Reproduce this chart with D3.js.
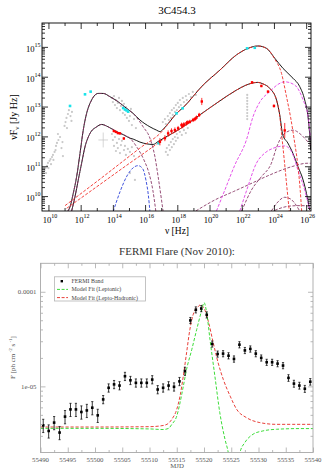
<!DOCTYPE html>
<html>
<head>
<meta charset="utf-8">
<script src="https://cdn.jsdelivr.net/npm/d3@7"></script>
<style>
  body { margin: 0; background: #fff; }
  svg { display: block; font-family: "Liberation Serif", "Times New Roman", serif; }
</style>
</head>
<body>
<svg id="chart" width="322" height="469"></svg>
<script>
// ---------- SED panel: [log10 nu (Hz), log10 nuFnu (Jy Hz)] ----------
const totalUpper = [[11.21,9.50],[11.34,9.64],[11.54,10.09],[11.75,10.65],[11.96,11.43],[12.16,12.21],[12.37,12.77],[12.68,13.22],[13.09,13.44],[13.40,13.44],[13.82,13.33],[14.33,13.16],[14.85,12.94],[15.26,12.77],[15.68,12.55],[16.30,12.32],[16.71,12.21],[16.92,12.16],[17.12,12.24],[17.54,12.50],[17.95,12.77],[18.33,12.95],[19.60,13.72],[20.64,14.22],[21.67,14.73],[22.39,14.95],[23.01,15.03],[23.54,14.95],[24.05,14.62],[24.56,14.28],[25.18,13.95],[25.60,13.67],[25.91,13.22],[26.10,12.72],[26.22,12.05],[26.28,11.54]];
const totalLower = [[11.44,9.50],[11.65,9.98],[11.85,10.54],[12.06,11.10],[12.27,11.65],[12.58,12.10],[12.99,12.32],[13.30,12.40],[13.71,12.32],[14.23,12.16],[14.64,12.06],[15.06,11.94],[15.26,11.91],[15.68,11.81],[16.09,11.75],[16.50,11.73],[16.81,11.83],[17.12,11.93],[18.16,12.25],[19.40,12.72],[20.64,13.19],[21.67,13.55],[22.19,13.70],[22.60,13.78],[23.00,13.81],[23.32,13.76],[23.74,13.61],[24.16,13.22],[24.36,12.72],[24.55,12.05],[24.86,11.78],[25.18,11.43],[25.49,10.99],[25.81,10.54],[26.02,10.09],[26.22,9.53]];
const syncUpper = [[11.21,9.50],[11.34,9.64],[11.54,10.09],[11.75,10.65],[11.96,11.43],[12.16,12.21],[12.37,12.77],[12.68,13.22],[13.09,13.44],[13.40,13.44],[13.82,13.33],[14.33,13.16],[14.85,12.94],[15.26,12.77],[15.88,12.32],[16.30,11.94],[16.61,11.32],[16.81,10.65],[17.02,9.87],[17.12,9.48]];
const syncLower = [[11.44,9.50],[11.65,9.98],[11.85,10.54],[12.06,11.10],[12.27,11.65],[12.58,12.10],[12.99,12.32],[13.30,12.40],[13.71,12.32],[14.23,12.16],[14.64,12.06],[15.06,11.94],[15.49,11.64],[15.93,11.21],[16.24,10.77],[16.48,10.20],[16.67,9.48]];
const diskComp = [[14.02,9.48],[14.44,10.14],[14.87,10.67],[15.24,10.94],[15.57,11.02],[15.86,10.91],[16.05,10.54],[16.20,10.04],[16.30,9.48]];
const icUpper = [[11.03,9.68],[13.20,10.57],[15.68,11.61],[17.12,12.21],[17.54,12.50],[17.95,12.77],[18.33,12.95],[19.60,13.72],[20.64,14.22],[21.67,14.73],[22.39,14.95],[23.01,15.03],[23.54,14.95],[24.05,14.59],[24.47,14.11],[24.78,13.33],[25.04,12.62],[25.26,11.88],[25.48,11.04],[25.63,10.20],[25.72,9.50]];
const icLower = [[11.13,9.59],[13.20,10.39],[15.06,11.11],[16.30,11.58],[17.12,11.90],[18.16,12.25],[19.40,12.72],[20.64,13.19],[21.67,13.55],[22.19,13.70],[22.60,13.78],[23.00,13.81],[23.32,13.76],[23.74,13.61],[24.16,13.22],[24.36,12.68],[24.48,12.05],[24.64,11.21],[24.79,10.37],[24.95,9.50]];
const hadronUpper = [[20.43,9.50],[20.95,10.20],[21.57,11.04],[22.29,11.88],[22.70,12.66],[23.12,13.15],[23.74,13.50],[24.24,13.74],[24.67,13.83],[25.29,13.72],[25.81,13.22],[26.12,12.66],[26.28,11.88]];
const hadronLower = [[21.88,9.50],[22.31,10.20],[22.91,11.10],[23.43,11.44],[23.94,11.60],[24.67,11.68],[25.10,11.48],[25.49,10.87],[25.91,10.20],[26.18,9.64],[26.25,9.50]];
const cascadeA = [[22.00,9.50],[22.60,10.20],[23.22,10.65],[23.84,11.10],[24.17,11.64],[24.56,12.05],[25.18,12.21],[25.70,12.05],[26.18,11.77],[26.28,11.71]];
const cascadeBroad = [[19.15,9.50],[20.33,9.87],[21.48,10.15],[22.50,10.40],[23.58,10.67],[25.13,10.99],[26.06,11.10],[26.28,11.10]];
const cascadeSmall = [[23.84,9.50],[24.24,9.80],[24.67,9.96],[25.04,9.90],[25.29,9.76],[25.60,9.50]];
const cascadeFlat = [[24.05,9.52],[24.55,9.62],[25.08,9.67],[25.60,9.68],[26.12,9.67],[26.28,9.65]];

// observed points: [log nu, log nuFnu, error (dex)]
const redPoints = [[14.06,12.18,0.03],[14.19,12.15,0.03],[14.31,12.11,0.03],[14.44,12.10,0.03],[14.68,11.93,0.04],
  [16.92,11.82,0.12],[17.23,11.94,0.10],[17.43,12.10,0.10],[17.64,12.18,0.09],[17.85,12.21,0.09],[18.05,12.27,0.08],
  [18.26,12.38,0.08],[18.34,12.35,0.08],[18.41,12.40,0.08],[18.57,12.44,0.08],[18.65,12.47,0.07],[18.78,12.49,0.07],
  [18.98,12.55,0.07],[19.09,12.58,0.07],[19.19,12.63,0.07],[19.36,12.72,0.07],[19.52,13.17,0.12],
  [22.64,13.81,0.04],[23.22,13.69,0.04],[23.63,13.50,0.04],[24.00,13.02,0.05],[24.67,12.20,0.25]];
const cyanPoints = [[11.34,13.02],[12.27,13.41],[12.62,13.50],[14.64,12.95],[14.75,12.90],[14.85,12.87],[14.95,12.83],[16.84,11.77],[17.95,12.77],[18.33,12.94],[22.33,14.95],[22.81,14.97]];
const grayPoints = [
  [9.63,10.67],[9.69,10.81],[9.76,10.87],[9.82,10.94],[9.85,10.77],[9.91,11.01],[9.97,11.11],[10.00,10.94],[10.07,11.18],[10.13,11.24],[10.16,11.07],[10.22,11.31],[10.28,11.38],[10.31,11.21],[10.38,11.48],[10.44,11.54],[10.47,11.68],[10.53,11.78],[10.59,12.08],[10.62,11.88],[10.72,11.98],[10.81,11.61],[10.87,11.81],[10.90,11.34],[11.00,12.35],[11.06,12.48],[11.12,12.62],[11.15,12.28],[11.21,12.75],[11.27,12.88],[11.37,12.68],[11.43,12.52],[11.46,12.82],
  [13.94,13.29],[14.00,13.15],[14.07,13.35],[14.13,13.05],[14.19,13.22],[14.25,12.95],[14.31,13.12],[14.38,13.29],[14.44,12.88],[14.50,13.02],[14.56,13.19],[14.62,12.78],[14.69,13.09],[14.75,12.72],[14.81,12.98],[14.87,12.62],[14.93,12.82],[15.00,12.52],[15.06,12.68],[15.12,12.92],[15.18,12.38],[15.31,12.58],[15.43,12.28],
  [13.94,12.08],[14.00,11.88],[14.07,11.68],[14.13,11.98],[14.19,11.51],[14.25,11.78],[14.31,11.61],[14.38,11.91],[14.44,11.44],[14.50,11.71],[14.56,11.85],[14.69,11.54],[14.75,11.68],[14.81,11.38],[14.93,11.58],[15.06,11.48],[15.18,11.64],[15.31,11.34],[15.06,10.77],[15.37,10.54],
  [17.10,12.48],[17.23,12.58],[17.29,12.41],[17.41,12.68],[17.48,12.55],[17.54,12.78],[17.60,12.62],[17.66,12.88],[17.72,12.72],[17.79,12.95],[17.85,12.82],[17.91,13.05],[17.97,12.88],[18.03,13.12],[18.10,12.98],[18.16,13.22],[18.22,13.05],[18.34,13.29],[18.41,13.15],[18.53,13.35],[18.59,13.22],[18.72,13.42],[18.84,13.32],[18.96,13.49],[19.15,13.39],
  [17.29,11.48],[17.35,11.61],[17.41,11.38],[17.48,11.71],[17.54,11.54],[17.60,11.81],[17.66,11.64],[17.72,11.91],[17.79,11.74],[17.85,11.98],[17.91,11.85],[17.97,12.08],[18.03,11.95],[18.16,12.15],[18.28,12.05],[18.41,12.21],[18.53,12.11],[18.65,12.28],
  [22.34,13.39],[22.34,13.29],[22.34,13.19],[22.34,13.09],[22.34,12.99],[22.34,12.89],[22.34,12.78],[22.34,12.68],[22.34,12.58]];
const grayCross = [13.40, 11.88, 0.25, 0.30];
const sedXTicks = [10, 12, 14, 16, 18, 20, 22, 24, 26];
const sedYTicks = [10, 11, 12, 13, 14, 15];

// ---------- FERMI light curve ----------
const fermiMjd = [55490.5,55491.5,55492.5,55493.5,55494.5,55495.5,55496.5,55497.5,55498.5,55499.5,55500.5,55501.5,55502.5,55503.5,55504.5,55505.5,55506.5,55507.5,55508.5,55509.5,55510.5,55511.5,55512.5,55513.5,55514.5,55515.5,55516.5,55517.5,55518.5,55519.5,55520.5,55521.5,55522.5,55523.5,55524.5,55525.5,55526.5,55527.5,55528.5,55529.5,55530.5,55531.5,55532.5,55533.5,55534.5,55535.5,55536.5,55537.5,55538.5,55539.5];
// flux and error in units of 1e-6 ph cm^-2 s^-1
const fermiFlux = [3.87,3.38,4.14,3.25,4.79,5.71,5.71,5.36,5.57,5.95,4.94,7.28,9.66,10.5,10.2,12.8,11.6,10.9,10.9,10.9,11.8,9.27,9.66,10.2,9.90,11.3,14.5,49.8,64.5,66.5,57.1,28.1,22.0,22.2,21.1,19.5,27.6,24.0,24.9,22.2,20.0,18.0,18.0,17.4,16.6,12.3,10.7,10.2,9.44,11.2];
const fermiErr = [0.62,0.54,0.66,0.52,0.77,0.91,0.91,0.86,0.89,0.95,0.79,0.73,0.97,1.05,1.02,1.28,1.16,1.09,1.09,1.09,1.18,0.93,0.97,1.02,0.99,1.13,1.45,3.7,4.8,5.0,4.3,2.1,1.65,1.67,1.6,1.5,2.1,1.8,1.9,1.67,1.5,1.35,1.35,1.3,1.25,1.0,0.9,0.85,0.8,0.9];
const leptonicMjd = [55490,55500,55510,55512.5,55513.5,55514.1,55515.0,55515.6,55516.2,55516.8,55517.75,55518.65,55519.6,55520.0,55520.5,55521.1,55522.0,55522.9,55523.85,55524.45,55525.0,55525.6,55526.1,55526.6,55527.5,55529.0,55530.8,55533.3,55537.6,55540];
const leptonicFlux = [3.6,3.6,3.55,3.5,3.6,3.97,4.85,6.7,10.0,15.1,24.4,39.7,64.5,76.9,59.6,31.2,12.8,5.27,2.76,2.0,1.2,0.8,1.2,2.0,2.55,3.12,3.38,3.52,3.58,3.58];
const hadronicMjd = [55490,55500,55510,55512,55513.2,55514.1,55515.0,55515.6,55516.2,55516.8,55517.4,55518.0,55518.95,55519.3,55520.0,55520.8,55521.7,55522.6,55523.55,55524.8,55526.0,55527.8,55530.25,55533.3,55536.2,55540];
const hadronicFlux = [3.72,3.72,3.75,3.82,3.97,4.49,5.71,7.89,12.8,22.6,39.7,57.1,69.8,72.8,67.1,48.5,28.8,17.7,11.8,7.89,5.71,4.67,4.14,3.97,3.97,3.97];
const lcXTicks = [55490, 55495, 55500, 55505, 55510, 55515, 55520, 55525, 55530, 55535, 55540];

const svg = d3.select('#chart');
const p = v => Math.pow(10, v);

// ================= top panel =================
const f1 = { l: 42, r: 311, t: 23, b: 211 };
const x1 = d3.scaleLog().domain([p(9.6), p(26.3)]).range([f1.l, f1.r]);
const y1 = d3.scaleLog().domain([p(9.5), p(15.8)]).range([f1.b, f1.t]);

svg.append('clipPath').attr('id', 'clip1')
  .append('rect').attr('x', f1.l).attr('y', f1.t).attr('width', f1.r - f1.l).attr('height', f1.b - f1.t);

const sedG = svg.append('g');
const plot1 = sedG.append('g').attr('clip-path', 'url(#clip1)');

plot1.selectAll('.gray').data(grayPoints).enter().append('circle')
  .attr('cx', d => x1(p(d[0]))).attr('cy', d => y1(p(d[1]))).attr('r', 1.1)
  .attr('fill', '#c9c9c9');

const gc = plot1.append('g').attr('stroke', '#c4c4c4').attr('stroke-width', 0.7);
gc.append('line').attr('x1', x1(p(grayCross[0]))).attr('x2', x1(p(grayCross[0])))
  .attr('y1', y1(p(grayCross[1] - grayCross[2]))).attr('y2', y1(p(grayCross[1] + grayCross[2])));
gc.append('line').attr('y1', y1(p(grayCross[1]))).attr('y2', y1(p(grayCross[1])))
  .attr('x1', x1(p(grayCross[0] - grayCross[3]))).attr('x2', x1(p(grayCross[0] + grayCross[3])));

const sedLine = d3.line().x(d => x1(p(d[0]))).y(d => y1(p(d[1]))).curve(d3.curveMonotoneX);

const curves = [
  { d: totalUpper, c: '#000', dash: null },
  { d: totalLower, c: '#000', dash: null },
  { d: syncUpper, c: '#8a3a68', dash: '3,1.6' },
  { d: syncLower, c: '#8a3a68', dash: '3,1.6' },
  { d: diskComp, c: '#2a3fd8', dash: '3,1.6' },
  { d: cascadeBroad, c: '#8a3a68', dash: '3,1.6' },
  { d: cascadeA, c: '#8a3a68', dash: '3,1.6' },
  { d: cascadeSmall, c: '#8a3a68', dash: '3,1.6' },
  { d: cascadeFlat, c: '#8a3a68', dash: '3,1.6' },
  { d: hadronUpper, c: '#e23ee6', dash: '3,1.6' },
  { d: hadronLower, c: '#e23ee6', dash: '3,1.6' },
  { d: icUpper, c: '#f0302a', dash: '3,1.6' },
  { d: icLower, c: '#f0302a', dash: '3,1.6' }
];
curves.forEach(k => {
  plot1.append('path').attr('d', sedLine(k.d))
    .attr('fill', 'none').attr('stroke', k.c).attr('stroke-width', 0.9)
    .attr('stroke-dasharray', k.dash);
});

plot1.selectAll('.cyan').data(cyanPoints).enter().append('rect')
  .attr('x', d => x1(p(d[0])) - 1.3).attr('y', d => y1(p(d[1])) - 1.3)
  .attr('width', 2.6).attr('height', 2.6).attr('fill', '#19e3ea');

const reds = plot1.selectAll('.red').data(redPoints).enter().append('g');
reds.append('line')
  .attr('x1', d => x1(p(d[0]))).attr('x2', d => x1(p(d[0])))
  .attr('y1', d => y1(p(d[1] - d[2]))).attr('y2', d => y1(p(d[1] + d[2])))
  .attr('stroke', '#f00').attr('stroke-width', 0.8);
reds.append('rect')
  .attr('x', d => x1(p(d[0])) - 1.2).attr('y', d => y1(p(d[1])) - 1.2)
  .attr('width', 2.4).attr('height', 2.4).attr('fill', '#f00');

// axes with inward ticks
const minorX = sedXTicks.slice(0, -1).map(e => p(e + 1));
const minorY = [];
for (let e = 9; e <= 15; e++) for (let k = 2; k <= 9; k++) {
  const v = k * p(e);
  if (v > p(9.5) && v < p(15.8)) minorY.push(v);
}
const ax = (gen, vals, size, tr) => sedG.append('g').attr('transform', tr)
  .call(gen.tickValues(vals).tickSize(size).tickSizeOuter(0).tickFormat(''))
  .call(g => g.select('.domain').remove())
  .call(g => g.selectAll('line').attr('stroke', '#000').attr('stroke-width', 0.8));
const majX = sedXTicks.map(p), majY = sedYTicks.map(p);
ax(d3.axisBottom(x1), majX, -6, `translate(0,${f1.b})`);
ax(d3.axisBottom(x1), minorX, -3, `translate(0,${f1.b})`);
ax(d3.axisTop(x1), majX, -6, `translate(0,${f1.t})`);
ax(d3.axisTop(x1), minorX, -3, `translate(0,${f1.t})`);
ax(d3.axisLeft(y1), majY, -6, `translate(${f1.l},0)`);
ax(d3.axisLeft(y1), minorY, -3, `translate(${f1.l},0)`);
ax(d3.axisRight(y1), majY, -6, `translate(${f1.r},0)`);
ax(d3.axisRight(y1), minorY, -3, `translate(${f1.r},0)`);
sedG.append('rect').attr('x', f1.l).attr('y', f1.t).attr('width', f1.r - f1.l).attr('height', f1.b - f1.t)
  .attr('fill', 'none').attr('stroke', '#000').attr('stroke-width', 0.9);

sedXTicks.forEach(e => {
  const t = sedG.append('text').attr('x', x1(p(e)) + 1.5).attr('y', 223)
    .attr('text-anchor', 'middle').attr('font-size', 8.6).attr('fill', '#000');
  t.append('tspan').text('10');
  t.append('tspan').attr('font-size', 6).attr('dy', -5).text(e);
});
sedYTicks.forEach(e => {
  const t = sedG.append('text').attr('x', 40.5).attr('y', y1(p(e)) + 5)
    .attr('text-anchor', 'end').attr('font-size', 8.6).attr('fill', '#000');
  t.append('tspan').text('10');
  t.append('tspan').attr('font-size', 6).attr('dy', -5).text(e);
});

sedG.append('text').attr('x', 177).attr('y', 13.8).attr('text-anchor', 'middle')
  .attr('font-size', 11).text('3C454.3');
sedG.append('text').attr('x', 177).attr('y', 234).attr('text-anchor', 'middle')
  .attr('font-size', 9.5).text('\u03bd [Hz]');
const yl = sedG.append('text').attr('transform', 'translate(16.5,117) rotate(-90)')
  .attr('text-anchor', 'middle').attr('font-size', 10);
yl.append('tspan').text('\u03bdF');
yl.append('tspan').attr('font-size', 7).attr('dy', 2.5).text('\u03bd');
yl.append('tspan').attr('dy', -2.5).text(' [Jy Hz]');

// ================= bottom panel =================
const f2 = { l: 40.5, r: 313, t: 263.3, b: 452.5 };
const x2 = d3.scaleLinear().domain([55490, 55540]).range([f2.l, f2.r]);
const y2 = d3.scaleLog().domain([2e-6, 2e-4]).range([f2.b, f2.t]);
const frameGray = '#a8a8a8', textGray = '#555';

svg.append('clipPath').attr('id', 'clip2')
  .append('rect').attr('x', f2.l).attr('y', f2.t).attr('width', f2.r - f2.l).attr('height', f2.b - f2.t);
const lcG = svg.append('g');
const plot2 = lcG.append('g').attr('clip-path', 'url(#clip2)');

const lcLine = d3.line().x(d => x2(d[0])).y(d => y2(d[1] * 1e-6)).curve(d3.curveMonotoneX);
plot2.append('path').attr('d', lcLine(d3.zip(hadronicMjd, hadronicFlux)))
  .attr('fill', 'none').attr('stroke', '#e8403a').attr('stroke-width', 1).attr('stroke-dasharray', '3.2,1.8');
plot2.append('path').attr('d', lcLine(d3.zip(leptonicMjd, leptonicFlux)))
  .attr('fill', 'none').attr('stroke', '#3ddc3a').attr('stroke-width', 1).attr('stroke-dasharray', '3.2,1.8');

const pts = plot2.selectAll('.fermi').data(d3.zip(fermiMjd, fermiFlux, fermiErr)).enter().append('g');
pts.append('line')
  .attr('x1', d => x2(d[0])).attr('x2', d => x2(d[0]))
  .attr('y1', d => y2((d[1] - d[2]) * 1e-6)).attr('y2', d => y2((d[1] + d[2]) * 1e-6))
  .attr('stroke', '#000').attr('stroke-width', 0.8);
[-1, 1].forEach(s => {
  pts.append('line')
    .attr('x1', d => x2(d[0]) - 1.1).attr('x2', d => x2(d[0]) + 1.1)
    .attr('y1', d => y2((d[1] + s * d[2]) * 1e-6))
    .attr('y2', d => y2((d[1] + s * d[2]) * 1e-6))
    .attr('stroke', '#000').attr('stroke-width', 0.7);
});
pts.append('rect')
  .attr('x', d => x2(d[0]) - 1.3).attr('y', d => y2(d[1] * 1e-6) - 1.3)
  .attr('width', 2.6).attr('height', 2.6).attr('fill', '#000');

const lcMinorX = d3.range(55492.5, 55540, 5);
const lcMinorY = [];
for (let e = -6; e <= -4; e++) for (let k = 2; k <= 9; k++) {
  const v = k * Math.pow(10, e);
  if (v > 2e-6 && v < 2e-4) lcMinorY.push(v);
}
const ax2 = (gen, vals, size, tr) => lcG.append('g').attr('transform', tr)
  .call(gen.tickValues(vals).tickSize(size).tickSizeOuter(0).tickFormat(''))
  .call(g => g.select('.domain').remove())
  .call(g => g.selectAll('line').attr('stroke', frameGray).attr('stroke-width', 0.8));
ax2(d3.axisBottom(x2), lcXTicks, -5, `translate(0,${f2.b})`);
ax2(d3.axisBottom(x2), lcMinorX, -2.5, `translate(0,${f2.b})`);
ax2(d3.axisTop(x2), lcXTicks, -5, `translate(0,${f2.t})`);
ax2(d3.axisTop(x2), lcMinorX, -2.5, `translate(0,${f2.t})`);
ax2(d3.axisLeft(y2), [1e-5, 1e-4], -5, `translate(${f2.l},0)`);
ax2(d3.axisLeft(y2), lcMinorY, -2.5, `translate(${f2.l},0)`);
ax2(d3.axisRight(y2), [1e-5, 1e-4], -5, `translate(${f2.r},0)`);
ax2(d3.axisRight(y2), lcMinorY, -2.5, `translate(${f2.r},0)`);
lcG.append('rect').attr('x', f2.l).attr('y', f2.t).attr('width', f2.r - f2.l).attr('height', f2.b - f2.t)
  .attr('fill', 'none').attr('stroke', frameGray).attr('stroke-width', 0.9);

lcXTicks.forEach(v => {
  lcG.append('text').attr('x', x2(v)).attr('y', 461.5).attr('text-anchor', 'middle')
    .attr('font-size', 6.8).attr('fill', textGray).text(v);
});
[[1e-4, '0.0001'], [1e-5, '1e-05']].forEach(([v, s]) => {
  lcG.append('text').attr('x', 36.5).attr('y', y2(v) + 2.4).attr('text-anchor', 'end')
    .attr('font-size', 6.8).attr('fill', textGray).text(s);
});

lcG.append('text').attr('x', 177).attr('y', 255).attr('text-anchor', 'middle')
  .attr('font-size', 11).attr('fill', '#333').text('FERMI Flare (Nov 2010):');
lcG.append('text').attr('x', 177).attr('y', 467.8).attr('text-anchor', 'middle')
  .attr('font-size', 6.8).attr('fill', textGray).text('MJD');
const yl2 = lcG.append('text').attr('transform', 'translate(14.5,357.5) rotate(-90)')
  .attr('text-anchor', 'middle').attr('font-size', 7).attr('fill', textGray);
yl2.append('tspan').text('F [ph cm');
yl2.append('tspan').attr('font-size', 5).attr('dy', -2.5).text(' -2');
yl2.append('tspan').attr('dy', 2.5).text(' s');
yl2.append('tspan').attr('font-size', 5).attr('dy', -2.5).text(' -1');
yl2.append('tspan').attr('dy', 2.5).text(']');

// legend
const lg = lcG.append('g');
lg.append('rect').attr('x', 54.5).attr('y', 276.8).attr('width', 91).attr('height', 24.2)
  .attr('fill', '#fff').attr('stroke', '#b5b5b5').attr('stroke-width', 0.8);
const legendItems = [
  { label: 'FERMI Band', type: 'sq', c: '#000' },
  { label: 'Model Fit (Leptonic)', type: 'line', c: '#3ddc3a' },
  { label: 'Model Fit (Lepto-Hadronic)', type: 'line', c: '#e8403a' }
];
legendItems.forEach((it, i) => {
  const yy = 281.2 + i * 8.2;
  if (it.type === 'sq') {
    lg.append('rect').attr('x', 60.6).attr('y', yy - 1.2).attr('width', 2.4).attr('height', 2.4).attr('fill', it.c);
  } else {
    lg.append('line').attr('x1', 57).attr('x2', 68).attr('y1', yy).attr('y2', yy)
      .attr('stroke', it.c).attr('stroke-width', 1).attr('stroke-dasharray', '3,1.6');
  }
  lg.append('text').attr('x', 71.5).attr('y', yy + 2).attr('font-size', 5.9)
    .attr('fill', '#444').text(it.label);
});
</script>
</body>
</html>
